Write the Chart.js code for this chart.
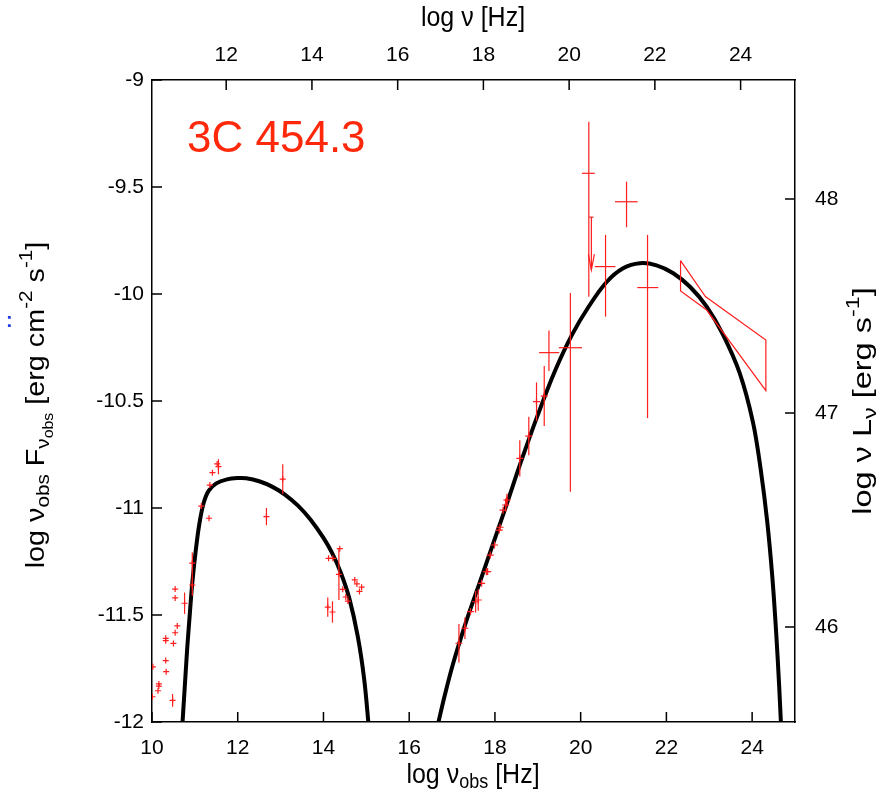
<!DOCTYPE html>
<html><head><meta charset="utf-8">
<script src="https://cdn.jsdelivr.net/npm/chart.js@4.4.0/dist/chart.umd.min.js"></script>
<style>html,body{margin:0;padding:0;background:#fff;}#wrap{position:relative;width:893px;height:799px;}</style>
</head><body><div id="wrap"><canvas id="c" width="893" height="799"></canvas></div>
<script>
// ---- axis ticks ----
const xTicks = [10, 12, 14, 16, 18, 20, 22, 24];
const x2Ticks = [12, 14, 16, 18, 20, 22, 24];
const yTicks = [-12, -11.5, -11, -10.5, -10, -9.5, -9];
const y2Ticks = [46, 47, 48];
const logOnePlusZ = 0.269;     // top axis: log nu = log nu_obs + log(1+z)
const lumOffset = 57.556;      // right axis: log nuL = log nuF + log(4 pi d^2)

// ---- texts ----
const sourceName = "3C 454.3";
const topTitle = [["log ν [Hz]", 0]];
const bottomTitle = [["log ν", 0], ["obs", 1], [" [Hz]", 0]];
const leftTitle = [["log ν", 0], ["obs", 1], [" F", 0], ["ν", 1], ["obs", 2], [" [erg cm", 0], ["-2", -1], [" s", 0], ["-1", -1], ["]", 0]];
const rightTitle = [["log ν L", 0], ["ν", 1], [" [erg s", 0], ["-1", -1], ["]", 0]];

// ---- model curves ----
const syncX = [10.70, 10.76, 10.82, 10.88, 10.94, 11.02, 11.10, 11.20, 11.32, 11.50, 11.75, 12.00, 12.20, 12.50, 12.80, 13.10, 13.40, 13.70, 14.00, 14.20, 14.40, 14.60, 14.80, 14.95, 15.06];
const syncY = [-12.04, -11.85, -11.66, -11.50, -11.35, -11.20, -11.08, -10.98, -10.92, -10.885, -10.866, -10.860, -10.861, -10.875, -10.900, -10.937, -10.988, -11.055, -11.14, -11.21, -11.30, -11.42, -11.60, -11.80, -12.03];
const icX = [16.66, 16.83, 17.02, 17.33, 17.65, 17.96, 18.27, 18.58, 19.00, 19.40, 19.80, 20.20, 20.60, 20.99, 21.38, 21.77, 22.16, 22.55, 22.94, 23.32, 23.71, 24.02, 24.20, 24.35, 24.47, 24.56, 24.63, 24.68];
const icY = [-12.02, -11.875, -11.73, -11.53, -11.345, -11.165, -10.985, -10.80, -10.565, -10.36, -10.19, -10.055, -9.945, -9.88, -9.856, -9.866, -9.903, -9.966, -10.059, -10.19, -10.37, -10.60, -10.82, -11.06, -11.32, -11.58, -11.83, -12.04];

// ---- radio / mm / IR / optical data ----
const lowX = [10.02, 10.01, 10.14, 10.16, 10.16, 10.32, 10.32, 10.32, 10.33, 10.48, 10.50, 10.54, 10.54, 10.54, 10.59, 10.76, 10.94, 10.94, 11.15, 11.33, 11.35, 11.41, 11.52, 11.55, 12.67, 13.05, 14.10, 14.21, 14.12, 14.22, 14.38, 14.36, 14.45, 14.52, 14.57, 14.73, 14.78, 14.84, 14.89];
const lowY = [-11.742, -11.882, -11.854, -11.822, -11.832, -11.609, -11.62, -11.713, -11.765, -11.899, -11.633, -11.379, -11.42, -11.583, -11.551, -11.445, -11.36, -11.258, -10.991, -11.048, -10.893, -10.835, -10.794, -10.807, -11.04, -10.865, -11.463, -11.486, -11.235, -11.235, -11.19, -11.31, -11.38, -11.416, -11.435, -11.336, -11.355, -11.39, -11.37];
const lowYerr = [0.01, 0.01, 0.01, 0.01, 0.01, 0.01, 0.01, 0.01, 0.01, 0.03, 0.01, 0.01, 0.01, 0.01, 0.01, 0.05, 0.05, 0.05, 0.01, 0.0, 0.01, 0.01, 0.01, 0.035, 0.04, 0.07, 0.045, 0.05, 0.01, 0.01, 0.01, 0.12, 0.01, 0.01, 0.01, 0.01, 0.01, 0.01, 0.01];

// ---- X-ray data ----
const xrX = [17.16, 17.30, 17.43, 17.55, 17.61, 17.69, 17.80, 17.83, 17.89, 17.99, 18.10, 18.12, 18.19, 18.25, 18.28, 18.58, 18.79, 18.97, 19.15];
const xrY = [-11.632, -11.562, -11.484, -11.438, -11.43, -11.352, -11.298, -11.297, -11.22, -11.173, -11.103, -11.09, -11.01, -10.986, -10.963, -10.768, -10.664, -10.503, -10.477];
const xrYerr = [0.09, 0.05, 0.02, 0.05, 0.05, 0.02, 0.02, 0.02, 0.02, 0.02, 0.02, 0.02, 0.02, 0.03, 0.03, 0.085, 0.09, 0.09, 0.14];

// ---- hard X-ray / gamma data with x and y ranges ----
const gX = [19.26, 19.76, 20.19, 20.58, 21.07, 21.56];
const gY = [-10.274, -10.251, -9.436, -9.872, -9.569, -9.97];
const gXlo = [19.03, 19.49, 20.03, 20.33, 20.80, 21.32];
const gXhi = [19.50, 20.03, 20.33, 20.81, 21.33, 21.81];
const gYlo = [-10.36, -10.924, -10.013, -10.106, -9.688, -10.58];
const gYhi = [-10.17, -9.995, -9.195, -9.724, -9.475, -9.724];

// ---- upper limit ----
const ulX = [20.25];
const ulY = [-9.641];
const ulTip = [-9.888];

// ---- gamma-ray bow tie (closed outline) ----
const bowX = [22.33, 22.91, 24.32, 24.32, 22.94, 22.33, 22.33];
const bowY = [-9.844, -10.012, -10.215, -10.452, -10.075, -9.986, -9.844];

const RED = 'rgb(255,30,30)';
const toPts = (xs, ys) => xs.map((x, i) => ({x: x, y: ys[i]}));
const FONT = "'Liberation Sans', Arial, sans-serif";

function segFont(l, base) {
  const s = l === 0 ? base : (l === 2 ? base * 0.55 : base * 0.72);
  return s.toFixed(1) + 'px ' + FONT;
}
function segShift(l, base) {
  if (l === 1) return base * 0.28;
  if (l === 2) return base * 0.5;
  if (l === -1) return -base * 0.4;
  return 0;
}
function richWidth(ctx, segs, base) {
  let w = 0;
  for (const [t, l] of segs) { ctx.font = segFont(l, base); w += ctx.measureText(t).width; }
  return w;
}
// stretchAlong: scale along the text direction, stretchAcross: scale across it
function drawRich(ctx, segs, cx, cy, rot, base, stretchAlong, stretchAcross) {
  ctx.save();
  ctx.translate(cx, cy);
  ctx.rotate(rot);
  ctx.scale(stretchAlong, stretchAcross);
  ctx.fillStyle = '#000';
  ctx.textBaseline = 'middle';
  ctx.textAlign = 'left';
  let x = -richWidth(ctx, segs, base) / 2;
  for (const [t, l] of segs) {
    ctx.font = segFont(l, base);
    ctx.fillText(t, x, segShift(l, base));
    x += ctx.measureText(t).width;
  }
  ctx.restore();
}

const decorPlugin = {
  id: 'decor',
  afterDatasetsDraw(chart) {
    const ctx = chart.ctx, a = chart.chartArea;
    const sx = chart.scales.x, sy = chart.scales.y, sx2 = chart.scales.x2, sy2 = chart.scales.y2;
    ctx.save();
    ctx.beginPath(); ctx.rect(a.left, a.top, a.right - a.left, a.bottom - a.top); ctx.clip();
    ctx.strokeStyle = RED; ctx.lineWidth = 1.2;
    const vbar = (x, y1, y2) => { ctx.beginPath(); ctx.moveTo(sx.getPixelForValue(x), sy.getPixelForValue(y1)); ctx.lineTo(sx.getPixelForValue(x), sy.getPixelForValue(y2)); ctx.stroke(); };
    const hbar = (y, x1, x2) => { ctx.beginPath(); ctx.moveTo(sx.getPixelForValue(x1), sy.getPixelForValue(y)); ctx.lineTo(sx.getPixelForValue(x2), sy.getPixelForValue(y)); ctx.stroke(); };
    lowX.forEach((x, i) => { if (lowYerr[i] > 0.02) vbar(x, lowY[i] - lowYerr[i], lowY[i] + lowYerr[i]); });
    xrX.forEach((x, i) => { if (xrYerr[i] > 0.02) vbar(x, xrY[i] - xrYerr[i], xrY[i] + xrYerr[i]); });
    gX.forEach((x, i) => { vbar(x, gYlo[i], gYhi[i]); hbar(gY[i], gXlo[i], gXhi[i]); });
    ulX.forEach((x, i) => {
      hbar(ulY[i], x - 0.05, x + 0.05);
      vbar(x, ulY[i], ulTip[i]);
      const px = sx.getPixelForValue(x), py = sy.getPixelForValue(ulTip[i]);
      ctx.beginPath(); ctx.moveTo(px - 3, py - 16); ctx.lineTo(px, py); ctx.lineTo(px + 3, py - 16); ctx.stroke();
    });
    ctx.restore();

    // inward tick marks
    ctx.save();
    ctx.strokeStyle = '#000'; ctx.lineWidth = 1.5;
    const L = 10;
    ctx.beginPath();
    xTicks.forEach(v => { const p = sx.getPixelForValue(v); ctx.moveTo(p, a.bottom); ctx.lineTo(p, a.bottom - L); });
    x2Ticks.forEach(v => { const p = sx2.getPixelForValue(v); ctx.moveTo(p, a.top); ctx.lineTo(p, a.top + L); });
    yTicks.forEach(v => { const p = sy.getPixelForValue(v); ctx.moveTo(a.left, p); ctx.lineTo(a.left + L, p); });
    y2Ticks.forEach(v => { const p = sy2.getPixelForValue(v); ctx.moveTo(a.right, p); ctx.lineTo(a.right - L, p); });
    ctx.stroke();
    ctx.restore();
  },
  afterDraw(chart) {
    const ctx = chart.ctx;
    drawRich(ctx, topTitle, 473, 18, 0, 25, 1, 1.12);
    drawRich(ctx, bottomTitle, 473, 775, 0, 25, 1, 1.12);
    drawRich(ctx, leftTitle, 37, 405, -Math.PI / 2, 25, 1.15, 1);
    drawRich(ctx, rightTitle, 864, 401, -Math.PI / 2, 25, 1.3, 1);
    ctx.save();
    ctx.fillStyle = 'rgb(255,40,10)';
    ctx.font = "44px " + FONT;
    ctx.textBaseline = 'alphabetic'; ctx.textAlign = 'left';
    ctx.fillText(sourceName, 187, 152);
    ctx.fillStyle = 'rgb(30,60,230)';
    ctx.font = "bold 20px " + FONT;
    ctx.fillText(':', 6, 327);
    ctx.restore();
  }
};

const tickFont = {family: FONT, size: 21};
const fixTicks = arr => (scale) => { scale.ticks = arr.map(v => ({value: v})); };

new Chart(document.getElementById('c'), {
  type: 'scatter',
  data: {
    datasets: [
      {data: toPts(lowX, lowY), pointStyle: 'cross', pointRadius: 3, borderColor: RED, borderWidth: 1.2, showLine: false},
      {data: toPts(xrX, xrY), pointStyle: 'cross', pointRadius: 3.5, borderColor: RED, borderWidth: 1.2, showLine: false},
      {data: toPts(gX, gY), pointRadius: 0, showLine: false},
      {data: toPts(bowX, bowY), showLine: true, pointRadius: 0, borderColor: RED, borderWidth: 1.2, fill: false, tension: 0},
      {data: toPts(syncX, syncY), showLine: true, pointRadius: 0, borderColor: '#000', borderWidth: 4, tension: 0.35},
      {data: toPts(icX, icY), showLine: true, pointRadius: 0, borderColor: '#000', borderWidth: 4, tension: 0.35}
    ]
  },
  options: {
    responsive: false, animation: false, devicePixelRatio: 1,
    layout: {padding: 0},
    plugins: {legend: {display: false}, tooltip: {enabled: false}},
    scales: {
      x: {type: 'linear', position: 'bottom', min: 10, max: 25,
        afterBuildTicks: fixTicks(xTicks), afterFit: s => { s.height = 77; },
        grid: {display: false, drawTicks: false}, border: {display: true, color: '#000', width: 1.5},
        ticks: {font: tickFont, color: '#000', padding: 14, maxRotation: 0, callback: v => String(v)}},
      x2: {type: 'linear', position: 'top', min: 10 + logOnePlusZ, max: 25 + logOnePlusZ,
        afterBuildTicks: fixTicks(x2Ticks), afterFit: s => { s.height = 80; },
        grid: {display: false, drawTicks: false}, border: {display: true, color: '#000', width: 1.5},
        ticks: {font: tickFont, color: '#000', padding: 12, maxRotation: 0, callback: v => String(v)}},
      y: {type: 'linear', position: 'left', min: -12, max: -9,
        afterBuildTicks: fixTicks(yTicks), afterFit: s => { s.width = 152; },
        grid: {display: false, drawTicks: false}, border: {display: true, color: '#000', width: 1.5},
        ticks: {font: tickFont, color: '#000', padding: 8, callback: v => String(v)}},
      y2: {type: 'linear', position: 'right', min: -12 + lumOffset, max: -9 + lumOffset,
        afterBuildTicks: fixTicks(y2Ticks), afterFit: s => { s.width = 98; },
        grid: {display: false, drawTicks: false}, border: {display: true, color: '#000', width: 1.5},
        ticks: {font: tickFont, color: '#000', padding: 20, callback: v => String(v)}}
    }
  },
  plugins: [decorPlugin]
});
</script></body></html>
